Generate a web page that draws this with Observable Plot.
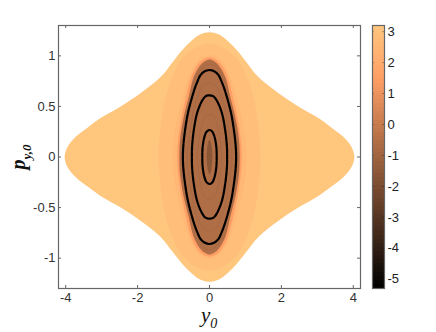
<!DOCTYPE html>
<html>
<head>
<meta charset="utf-8">
<script src="https://cdn.jsdelivr.net/npm/d3@7"></script>
<script src="https://cdn.jsdelivr.net/npm/@observablehq/plot@0.6"></script>
<style>
html,body{margin:0;padding:0;background:#fff}
#wrap{position:relative;width:436px;height:332px;overflow:hidden;display:flex}
#wrap svg{display:block;flex:none;background:transparent}
.lab{position:absolute;font-family:"Liberation Serif",serif;font-style:italic;font-weight:bold;color:#111;white-space:nowrap;line-height:1}
.lab sub{font-size:13px;font-weight:normal;vertical-align:-6px;line-height:0}
</style>
</head>
<body>
<div id="wrap">
<div class="lab" style="left:201px;top:306px;font-size:21px;font-weight:normal;line-height:18px">y<sub style="font-size:14px">0</sub></div>
<div class="lab" style="left:18px;top:157px;font-size:20px;transform:translate(-50%,-50%) rotate(-90deg)">p<sub style="font-weight:bold">y,0</sub></div>
</div>
<script>
// half-width (|y0|) and height (|p|) of each nested region, upper right quadrant, top to tip
const outerW = [0, 0.25, 0.5, 0.75, 1.0, 1.36, 1.92, 2.47, 3.03, 3.36, 3.72, 3.95, 4.03];
const outerP = [1.234, 1.214, 1.15, 1.06, 0.95, 0.79, 0.63, 0.5, 0.385, 0.3, 0.2, 0.1, 0];
const ringW  = [0, 0.2, 0.44, 0.72, 0.95, 1.22, 1.36, 1.42];
const ringP  = [1.12, 1.11, 1.07, 0.99, 0.86, 0.59, 0.3, 0];
const bandW  = [0, 0.2, 0.42, 0.64, 0.82, 0.97, 1.03];
const bandP  = [1.01, 0.99, 0.91, 0.73, 0.5, 0.26, 0];
const rimW   = [0, 0.16, 0.32, 0.5, 0.65, 0.78, 0.87, 0.9];
const rimP   = [0.985, 0.97, 0.92, 0.8, 0.6, 0.39, 0.17, 0];
const coreW  = [0, 0.12, 0.25, 0.44, 0.58, 0.72, 0.82, 0.84];
const coreP  = [0.965, 0.95, 0.91, 0.79, 0.59, 0.39, 0.17, 0];
const centerW = [0, 0.04, 0.07, 0.08];
const centerP = [0.17, 0.14, 0.07, 0];
// faint rings inside the core
const faint1W = [0, 0.2, 0.38, 0.52, 0.65, 0.76, 0.78];
const faint1P = [0.92, 0.88, 0.72, 0.52, 0.3, 0.1, 0];
const faint2W = [0, 0.17, 0.3, 0.42, 0.52, 0.6, 0.62];
const faint2P = [0.73, 0.71, 0.62, 0.5, 0.3, 0.1, 0];
const faint3W = [0, 0.13, 0.24, 0.32, 0.34];
const faint3P = [0.42, 0.4, 0.28, 0.1, 0];
// black orbits
const orbit1W = [0, 0.14, 0.25, 0.34, 0.44, 0.6, 0.69, 0.73, 0.74];
const orbit1P = [0.86, 0.845, 0.81, 0.743, 0.645, 0.434, 0.237, 0.1, 0];
const orbit2W = [0, 0.11, 0.2, 0.34, 0.436, 0.485, 0.49];
const orbit2P = [0.61, 0.6, 0.56, 0.44, 0.267, 0.1, 0];
const orbit3W = [0, 0.08, 0.14, 0.19, 0.2];
const orbit3P = [0.267, 0.25, 0.2, 0.1, 0];
// colour value of each region
const regionValues = [3.15, 2.85, 2.55, 1.5, -0.6, -1.6];
const faintValue = -1.3;
// colour scale: stops of the map and ticks
const colorStops = [-5.3, 1.5, 3.2];
const colorRange = ["#000000", "#ff9f65", "#ffc77f"];
const barTicks = [3, 2, 1, 0, -1, -2, -3, -4, -5];
const xTicks = [-4, -2, 0, 2, 4];
const yTicks = [-1, -0.5, 0, 0.5, 1];

function loop(W, P, extra) {
  const pts = [];
  const add = (x, y) => pts.push({x, y, ...extra});
  for (let i = 0; i < W.length; i++) add(W[i], P[i]);
  for (let i = W.length - 2; i >= 0; i--) add(W[i], -P[i]);
  for (let i = 1; i < W.length; i++) add(-W[i], -P[i]);
  for (let i = W.length - 2; i > 0; i--) add(-W[i], P[i]);
  return pts;
}
const regionShapes = [[outerW, outerP], [ringW, ringP], [bandW, bandP], [rimW, rimP], [coreW, coreP], [centerW, centerP]];
const regions = regionShapes.map(([w, p], i) => loop(w, p, {v: regionValues[i]}));
const faints = [[faint1W, faint1P], [faint2W, faint2P], [faint3W, faint3P]].map(([w, p]) => loop(w, p, {v: faintValue}));
const orbits = [[orbit1W, orbit1P], [orbit2W, orbit2P], [orbit3W, orbit3P]].map(([w, p]) => loop(w, p, {}));
const color = {type: "linear", domain: colorStops, range: colorRange, interpolate: "rgb"};
const axisStyle = {fontFamily: "'Liberation Sans',Arial,sans-serif", fontSize: 13, background: "transparent", color: "#333", overflow: "visible"};
const fmt = d => String(d);
const gray = "#666";
const smooth = "catmull-rom-closed";

const main = Plot.plot({
  width: 366, height: 332,
  marginLeft: 58, marginRight: 6, marginTop: 25, marginBottom: 44,
  x: {domain: [-4.2, 4.2]},
  y: {domain: [-1.3, 1.3]},
  color,
  style: axisStyle,
  marks: [
    ...regions.map(r => Plot.line(r, {x: "x", y: "y", fill: "v", stroke: null, curve: smooth})),
    ...faints.map(r => Plot.line(r, {x: "x", y: "y", stroke: "v", strokeWidth: 1, strokeOpacity: 0.35, curve: smooth})),
    ...orbits.map(o => Plot.line(o, {x: "x", y: "y", stroke: "#000", strokeWidth: 2.2, strokeDasharray: "5 1", curve: smooth})),
    Plot.axisX({anchor: "bottom", ticks: xTicks, tickFormat: fmt, tickSize: 0, tickPadding: 4, label: null, fill: "#333"}),
    Plot.axisY({anchor: "left", ticks: yTicks, tickFormat: fmt, tickSize: 0, tickPadding: 3, label: null, fill: "#333"}),
    Plot.ruleX(xTicks, {x: d => d, stroke: gray, insetBottom: 260}),
    Plot.ruleX(xTicks, {x: d => d, stroke: gray, insetTop: 260}),
    Plot.ruleY(yTicks, {y: d => d, stroke: gray, insetRight: 299}),
    Plot.ruleY(yTicks, {y: d => d, stroke: gray, insetLeft: 299}),
    Plot.frame({stroke: gray, strokeWidth: 1.2})
  ]
});

const levels = d3.range(64).map(i => {
  const a = -5.3 + 8.5 * i / 64, b = -5.3 + 8.5 * (i + 1) / 64;
  return {a, b, v: (a + b) / 2};
});
const bar = Plot.plot({
  width: 70, height: 332,
  marginLeft: 6, marginRight: 52, marginTop: 25, marginBottom: 44,
  x: {domain: [0, 1], axis: null},
  y: {domain: [-5.3, 3.2], axis: null},
  color,
  style: axisStyle,
  marks: [
    Plot.rect(levels, {x1: 0, x2: 1, y1: "a", y2: "b", fill: "v", shapeRendering: "crispEdges"}),
    Plot.axisY({anchor: "right", ticks: barTicks, tickFormat: fmt, tickSize: 0, tickPadding: 3, label: null, fill: "#222"}),
    Plot.ruleY(barTicks, {y: d => d, stroke: "#000", strokeOpacity: 0.3, insetRight: 10}),
    Plot.ruleY(barTicks, {y: d => d, stroke: "#000", strokeOpacity: 0.3, insetLeft: 10}),
    Plot.frame({stroke: gray, strokeWidth: 1.2})
  ]
});
const wrap = document.getElementById("wrap");
wrap.prepend(bar);
wrap.prepend(main);
</script>
</body>
</html>
